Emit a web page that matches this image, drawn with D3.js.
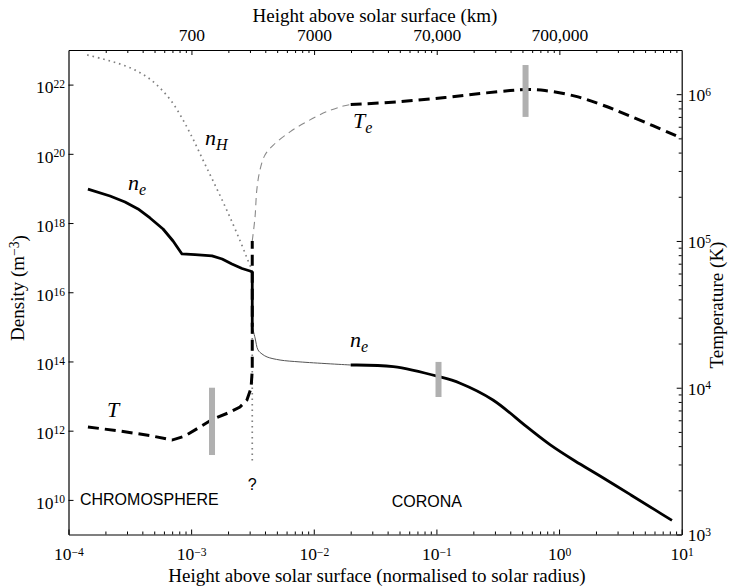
<!DOCTYPE html>
<html>
<head>
<meta charset="utf-8">
<script src="https://cdn.jsdelivr.net/npm/d3@7"></script>
<style>
  body { margin: 0; background: #fff; }
  svg { display: block; }
</style>
</head>
<body>
<svg id="chart" width="733" height="586"></svg>
<script>
// ---- axis extents and ticks ----
const heightDomain = [1e-4, 10];          // height above surface / solar radius
const densityDomain = [1e9, 1e23];        // m^-3
const temperatureDomain = [1e3, 2e6];     // K
const solarRadiusKm = 696000;

const heightTicks = [1e-4, 1e-3, 1e-2, 1e-1, 1e0, 1e1];
const heightTickExps = ["\u22124", "\u22123", "\u22122", "\u22121", "0", "1"];
const densityTicks = [1e10, 1e12, 1e14, 1e16, 1e18, 1e20, 1e22];
const densityTickExps = ["10", "12", "14", "16", "18", "20", "22"];
const temperatureTicks = [1e3, 1e4, 1e5, 1e6];
const temperatureTickExps = ["3", "4", "5", "6"];
const kmTicks = [700, 7000, 70000, 700000];
const kmTickLabels = ["700", "7000", "70,000", "700,000"];

// ---- chromospheric electron density (solid) ----
const neChromoHeight = [1.44e-4, 2.18e-4, 2.89e-4, 3.69e-4, 4.62e-4, 5.9e-4, 7.12e-4, 8.42e-4, 1.075e-3, 1.48e-3, 1.79e-3, 2.15e-3, 2.6e-3, 3.02e-3, 3.15e-3, 3.15e-3];
const neChromoValue  = [9.6e18, 6.05e18, 4.06e18, 2.55e18, 1.4e18, 6.73e17, 3.03e17, 1.28e17, 1.23e17, 1.12e17, 9.15e16, 6.56e16, 4.86e16, 4.12e16, 3.86e16, 1e15];

// ---- transition-region electron density (thin) ----
const neTransHeight = [3.15e-3, 3.32e-3, 3.51e-3, 3.78e-3, 4.16e-3, 5.31e-3, 7.73e-3, 0.02];
const neTransValue  = [1e15, 4.8e14, 2.15e14, 1.65e14, 1.35e14, 1.1e14, 9.7e13, 7.9e13];

// ---- coronal electron density (solid) ----
const neCoronaHeight = [0.02, 0.0445, 0.105, 0.156, 0.289, 0.547, 0.843, 1.349, 2.16, 3.79, 6.06, 8.33];
const neCoronaValue  = [7.9e13, 7.1e13, 3.64e13, 2.35e13, 7.7e12, 1.28e12, 3.95e11, 1.33e11, 4.92e10, 1.44e10, 5.13e9, 2.55e9];

// ---- neutral hydrogen density (dotted) ----
const nHHeight = [1.42e-4, 1.91e-4, 2.49e-4, 3.36e-4, 4.37e-4, 5.57e-4, 6.98e-4, 8.59e-4, 1.036e-3, 1.25e-3, 1.51e-3, 1.82e-3, 2.19e-3, 2.55e-3, 2.85e-3, 3.08e-3, 3.15e-3];
const nHValue  = [7.2e22, 5.5e22, 4.2e22, 2.82e22, 1.66e22, 7.98e21, 3.15e21, 9.5e20, 2.68e20, 6.6e19, 1.64e19, 4.06e18, 9.4e17, 2.65e17, 9.8e16, 5.0e16, 3.86e16];
const nHDropHeight = [3.15e-3, 3.15e-3];
const nHDropValue  = [3.86e16, 1.17e11];

// ---- chromospheric temperature (thick dashed) ----
const tChromoHeight = [1.44e-4, 2.63e-4, 4.62e-4, 6.98e-4, 8.91e-4, 1.18e-3, 1.51e-3, 2.0e-3, 2.5e-3, 2.85e-3, 3.08e-3, 3.15e-3, 3.15e-3];
const tChromoValue  = [5400, 5070, 4720, 4400, 4690, 5400, 6120, 6730, 7390, 8250, 9950, 13200, 1e5];

// ---- transition-region electron temperature (thin dashed) ----
const teTransHeight = [3.15e-3, 3.32e-3, 3.43e-3, 3.64e-3, 4.0e-3, 4.68e-3, 6.4e-3, 8.75e-3, 0.0127, 0.0174, 0.02];
const teTransValue  = [1e5, 1.46e5, 2.22e5, 3.04e5, 3.85e5, 4.5e5, 5.54e5, 6.49e5, 7.59e5, 8.3e5, 8.5e5];

// ---- coronal electron temperature (thick dashed) ----
const teCoronaHeight = [0.02, 0.0505, 0.1176, 0.227, 0.398, 0.548, 0.768, 1.349, 2.16, 3.79, 10];
const teCoronaValue  = [8.5e5, 8.9e5, 9.49e5, 1.01e6, 1.058e6, 1.075e6, 1.058e6, 9.7e5, 8.55e5, 7.1e5, 5.02e5];

// ---- grey range markers ----
const markerHeight = [1.48e-3, 0.104, 0.533];
const markerLow    = [3480, 9.4e12, 7.0e5];
const markerHigh   = [1.0e4, 9.7e13, 1.58e6];
const markerAxis   = ["temperature", "density", "temperature"];

// ---- layout ----
const plot = { left: 68.5, right: 681.7, top: 50, bottom: 534.5 };
const serif = "'Liberation Serif', 'Times New Roman', Times, serif";
const sans = "'Liberation Sans', Arial, Helvetica, sans-serif";

const svg = d3.select("#chart");

const x = d3.scaleLog().domain(heightDomain).range([plot.left, plot.right]);
const xKm = d3.scaleLog().domain(heightDomain.map(h => h * solarRadiusKm)).range([plot.left, plot.right]);
const yD = d3.scaleLog().domain(densityDomain).range([plot.bottom, plot.top]);
const yT = d3.scaleLog().domain(temperatureDomain).range([plot.bottom, plot.top]);

function minorTicks(scale, base, kFrom, kTo) {
  const [a, b] = scale.domain();
  const out = [];
  for (let k = kFrom; k <= kTo; k++)
    for (let m = 2; m <= 9; m++) {
      const v = base * m * Math.pow(10, k);
      if (v > a * 1.0001 && v < b * 0.9999) out.push(v);
    }
  return out;
}

function superscript(sel, exps, extraDy, rise) {
  sel.each(function (d, i) {
    const t = d3.select(this).text(null);
    if (extraDy !== undefined) t.attr("dy", extraDy);
    t.append("tspan").text("10");
    t.append("tspan").attr("dy", rise || "-0.45em").attr("font-size", "0.66em").text(exps[i]);
  });
}

function styleAxis(g) {
  g.attr("font-family", serif).attr("font-size", 17.5);
  g.selectAll("line").attr("stroke", "#000").attr("stroke-width", 1);
  g.select(".domain").attr("stroke", "#000").attr("stroke-width", 1.2);
}

// bottom axis
const gBottomMinor = svg.append("g").attr("transform", `translate(0,${plot.bottom})`)
  .call(d3.axisBottom(x).tickValues(minorTicks(x, 1, -4, 0)).tickSizeInner(-3).tickSizeOuter(0).tickFormat(""));
gBottomMinor.select(".domain").remove();
styleAxis(gBottomMinor);
const gBottom = svg.append("g").attr("transform", `translate(0,${plot.bottom})`)
  .call(d3.axisBottom(x).tickValues(heightTicks).tickSizeInner(-5).tickSizeOuter(0).tickPadding(13).tickFormat(""));
styleAxis(gBottom);
superscript(gBottom.selectAll(".tick text"), heightTickExps, undefined, "-0.3em");

// top axis (km)
const kmMinor = minorTicks(xKm, 70, 0, 5);
const gTopMinor = svg.append("g").attr("transform", `translate(0,${plot.top})`)
  .call(d3.axisTop(xKm).tickValues(kmMinor).tickSizeInner(-3).tickSizeOuter(0).tickFormat(""));
gTopMinor.select(".domain").remove();
styleAxis(gTopMinor);
const gTop = svg.append("g").attr("transform", `translate(0,${plot.top})`)
  .call(d3.axisTop(xKm).tickValues(kmTicks).tickSizeInner(-5).tickSizeOuter(0).tickPadding(9)
    .tickFormat((d, i) => kmTickLabels[i]));
styleAxis(gTop);

// left axis (density)
const gLeft = svg.append("g").attr("transform", `translate(${plot.left},0)`)
  .call(d3.axisLeft(yD).tickValues(densityTicks).tickSizeInner(-5).tickSizeOuter(0).tickPadding(3.5).tickFormat(""));
styleAxis(gLeft);
superscript(gLeft.selectAll(".tick text"), densityTickExps, "0.47em");

// right axis (temperature)
const gRightMinor = svg.append("g").attr("transform", `translate(${plot.right},0)`)
  .call(d3.axisRight(yT).tickValues(minorTicks(yT, 1, 3, 6)).tickSizeInner(-3).tickSizeOuter(0).tickFormat(""));
gRightMinor.select(".domain").remove();
styleAxis(gRightMinor);
const gRight = svg.append("g").attr("transform", `translate(${plot.right},0)`)
  .call(d3.axisRight(yT).tickValues(temperatureTicks).tickSizeInner(-5).tickSizeOuter(0).tickPadding(6).tickFormat(""));
styleAxis(gRight);
superscript(gRight.selectAll(".tick text"), temperatureTickExps, "0.36em");

// axis titles
svg.append("text").attr("x", 375).attr("y", 22).attr("text-anchor", "middle")
  .attr("font-family", serif).attr("font-size", 19).text("Height above solar surface (km)");
svg.append("text").attr("x", 377).attr("y", 582).attr("text-anchor", "middle")
  .attr("font-family", serif).attr("font-size", 19)
  .text("Height above solar surface (normalised to solar radius)");
const leftTitle = svg.append("text").attr("transform", "translate(24,288) rotate(-90)")
  .attr("text-anchor", "middle").attr("font-family", serif).attr("font-size", 19);
leftTitle.append("tspan").text("Density (m");
leftTitle.append("tspan").attr("dy", "-0.4em").attr("font-size", "0.72em").text("\u22123");
leftTitle.append("tspan").attr("dy", "0.4em").text(")");
svg.append("text").attr("transform", "translate(723,305) rotate(-90)")
  .attr("text-anchor", "middle").attr("font-family", serif).attr("font-size", 19)
  .text("Temperature (K)");

// ---- curves ----
const zip = (hs, vs) => hs.map((h, i) => [h, vs[i]]);
const lineD = curve => d3.line().x(d => x(d[0])).y(d => yD(d[1])).curve(curve);
const lineT = curve => d3.line().x(d => x(d[0])).y(d => yT(d[1])).curve(curve);
const smooth = d3.curveCatmullRom.alpha(0.5);

const curves = svg.append("g").attr("fill", "none");

// neutral hydrogen
curves.append("path").attr("d", lineD(smooth)(zip(nHHeight, nHValue)))
  .attr("stroke", "#808080").attr("stroke-width", 1.7).attr("stroke-dasharray", "1.6,3.9");
curves.append("path").attr("d", lineD(d3.curveLinear)(zip(nHDropHeight, nHDropValue)))
  .attr("stroke", "#808080").attr("stroke-width", 1.7).attr("stroke-dasharray", "1.6,3.9");

// electron temperature through the transition region
curves.append("path").attr("d", lineT(smooth)(zip(teTransHeight, teTransValue)))
  .attr("stroke", "#8a8a8a").attr("stroke-width", 1.1).attr("stroke-dasharray", "7,5");

// electron density through the transition region
curves.append("path").attr("d", lineD(smooth)(zip(neTransHeight, neTransValue)))
  .attr("stroke", "#555").attr("stroke-width", 1);

// chromospheric electron density
curves.append("path").attr("d", lineD(d3.curveLinear)(zip(neChromoHeight, neChromoValue)))
  .attr("stroke", "#000").attr("stroke-width", 2.8).attr("stroke-linejoin", "round");

// coronal electron density
curves.append("path").attr("d", lineD(smooth)(zip(neCoronaHeight, neCoronaValue)))
  .attr("stroke", "#000").attr("stroke-width", 2.8);

// chromospheric temperature
curves.append("path").attr("d", lineT(d3.curveLinear)(zip(tChromoHeight, tChromoValue)))
  .attr("stroke", "#000").attr("stroke-width", 3).attr("stroke-dasharray", "11,6");

// coronal electron temperature
curves.append("path").attr("d", lineT(smooth)(zip(teCoronaHeight, teCoronaValue)))
  .attr("stroke", "#000").attr("stroke-width", 3).attr("stroke-dasharray", "11,6");

// grey range markers
svg.append("g").selectAll("rect")
  .data(markerHeight.map((h, i) => ({ h, lo: markerLow[i], hi: markerHigh[i], axis: markerAxis[i] })))
  .join("rect")
  .attr("x", d => x(d.h) - 3)
  .attr("width", 6)
  .attr("y", d => (d.axis === "density" ? yD : yT)(d.hi))
  .attr("height", d => (d.axis === "density" ? yD : yT)(d.lo) - (d.axis === "density" ? yD : yT)(d.hi))
  .attr("fill", "#b0b0b0");

// ---- annotations ----
function symbolLabel(px, py, main, sub) {
  const t = svg.append("text").attr("x", px).attr("y", py)
    .attr("font-family", serif).attr("font-style", "italic").attr("font-size", 22);
  t.append("tspan").text(main);
  if (sub) t.append("tspan").attr("dy", 5).attr("font-size", 16).text(sub);
}
symbolLabel(x(3.05e-4), yD(9e18), "n", "e");
symbolLabel(x(1.3e-3), yD(1.8e20), "n", "H");
symbolLabel(x(0.0209), yT(5.9e5), "T", "e");
symbolLabel(x(0.0197), yD(2.6e14), "n", "e");
symbolLabel(x(2.06e-4), yT(6310), "T");

svg.append("text").attr("x", x(1.24e-4)).attr("y", yD(7.1e9))
  .attr("font-family", sans).attr("font-size", 16).text("CHROMOSPHERE");
svg.append("text").attr("x", x(0.0432)).attr("y", yD(6.4e9))
  .attr("font-family", sans).attr("font-size", 16).text("CORONA");
svg.append("text").attr("x", x(3.15e-3)).attr("y", yD(1.94e10)).attr("text-anchor", "middle")
  .attr("font-family", sans).attr("font-size", 16).text("?");
</script>
</body>
</html>
